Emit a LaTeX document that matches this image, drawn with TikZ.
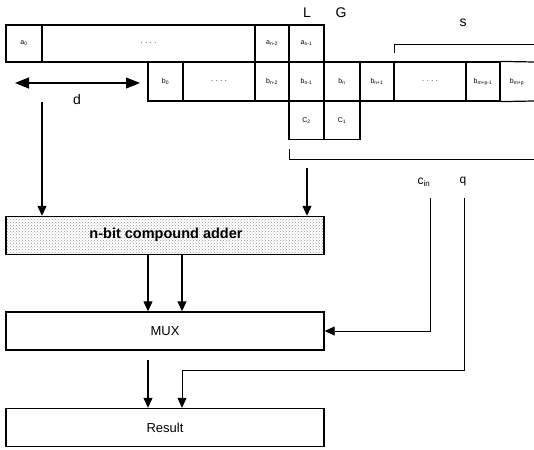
\documentclass[tikz,border=0pt]{standalone}
\usepackage{fontspec}
\setmainfont{Liberation Sans}
\usetikzlibrary{arrows.meta,patterns}
\begin{document}
\begin{tikzpicture}[x=1pt,y=-1pt,
  cell/.style={draw,line width=1.2pt,inner sep=0pt,font=\fontsize{7}{8}\selectfont},
  box/.style={draw,line width=1.4pt,inner sep=0pt,minimum width=318pt,minimum height=38pt,font=\fontsize{13}{14}\selectfont},
  arr/.style={-{Triangle[length=10pt,width=9pt]},line width=1.1pt},
  thinarr/.style={-{Triangle[length=10pt,width=9pt]},line width=0.7pt},
  lbl/.style={inner sep=0pt,font=\fontsize{14}{14}\selectfont},
  sublbl/.style={inner sep=0pt,font=\fontsize{12}{12}\selectfont},
  brk/.style={line width=1pt}]
\useasboundingbox (0,0) rectangle (534,449);
% top row
\node[cell,minimum width=36pt,minimum height=37pt] (a0) at (24,43.5) {a\textsubscript{0}};
\node[cell,minimum width=213pt,minimum height=37pt] (adots) at (148.5,43.5) {. . . .};
\node[cell,minimum width=34pt,minimum height=37pt] (an2) at (272,43.5) {a\textsubscript{n-2}};
\node[cell,minimum width=35pt,minimum height=37pt] (an1) at (306.5,43.5) {a\textsubscript{n-1}};
% second row
\node[cell,minimum width=35pt,minimum height=39pt] (b0) at (165.5,81.5) {b\textsubscript{0}};
\node[cell,minimum width=72pt,minimum height=39pt] (bdots) at (219,81.5) {. . . .};
\node[cell,minimum width=34pt,minimum height=39pt] (bn2) at (272,81.5) {b\textsubscript{n-2}};
\node[cell,minimum width=35pt,minimum height=39pt] (bn1) at (306.5,81.5) {b\textsubscript{n-1}};
\node[cell,minimum width=36pt,minimum height=39pt] (bn) at (342,81.5) {b\textsubscript{n}};
\node[cell,minimum width=34pt,minimum height=39pt] (bnp) at (377,81.5) {b\textsubscript{n+1}};
\node[cell,minimum width=72pt,minimum height=39pt] (bdots2) at (430,81.5) {. . . .};
\node[cell,minimum width=34pt,minimum height=39pt] (bm) at (483,81.5) {b\textsubscript{m+p-1}};
\node[cell,draw=none,minimum width=34pt,minimum height=39pt] (bl) at (517,81.5) {b\textsubscript{m+p}};
\coordinate (re1) at (534,62);
\coordinate (re2) at (534,101);
\draw[line width=1.2pt] (bm.north east) -- (re1);
\draw[line width=1.2pt] (bm.south east) -- (re2);
% carry row
\node[cell,minimum width=35pt,minimum height=38pt] (c2) at (306.5,120.5) {C\textsubscript{2}};
\node[cell,minimum width=36pt,minimum height=38pt] (c1) at (342,120.5) {C\textsubscript{1}};
% labels
\node[lbl] (L) at (307,13) {L};
\node[lbl] (G) at (341,13) {G};
\node[lbl] (s) at (463,23) {s};
\node[lbl] (d) at (77,99) {d};
% brackets
\coordinate (s1) at (394,53);
\coordinate (s2) at (394,45);
\coordinate (s3) at (534,45);
\draw[brk] (s1) -- (s2) -- (s3);
\coordinate (u1) at (289,149);
\coordinate (u2) at (289,159.5);
\coordinate (u3) at (534,159.5);
\draw[brk] (u1) -- (u2) -- (u3);
% d arrow
\coordinate (d1) at (15,83);
\coordinate (d2) at (140,83);
\draw[{Triangle[length=14pt,width=11pt]}-{Triangle[length=14pt,width=11pt]},line width=1.1pt] (d1) -- (d2);
% boxes
\node[box,pattern=crosshatch dots,pattern color=gray!80] (adder) at (165,235.5) {};
\node[inner sep=0pt,font=\fontsize{14.5}{15}\selectfont\bfseries] (addertxt) at (166,235) {n-bit compound adder};
\node[box] (mux) at (165,331) {MUX};
\node[box] (res) at (165,427.5) {Result};
% arrows into adder
\coordinate (la) at (42,102);
\draw[arr] (la) -- (la |- adder.north);
\coordinate (ra) at (307,168);
\draw[arr] (ra) -- (ra |- adder.north);
% adder to mux
\coordinate (m1) at (148,0);
\coordinate (m2) at (182,0);
\draw[arr] (adder.south -| m1) -- (mux.north -| m1);
\draw[arr] (adder.south -| m2) -- (mux.north -| m2);
% cin and q
\node[sublbl] (cin) at (424,182) {c\textsubscript{in}};
\node[sublbl] (q) at (463,182) {q};
\coordinate (cin0) at (430,198);
\draw[thinarr] (cin0) |- (mux.east);
\coordinate (q0) at (464,198);
\coordinate (q1) at (464,370);
\coordinate (q2) at (182,370);
\draw[thinarr] (q0) -- (q1) -- (q2) -- (q2 |- res.north);
% mux to result
\coordinate (r1) at (148,360);
\draw[arr] (r1) -- (r1 |- res.north);
\end{tikzpicture}
\end{document}
